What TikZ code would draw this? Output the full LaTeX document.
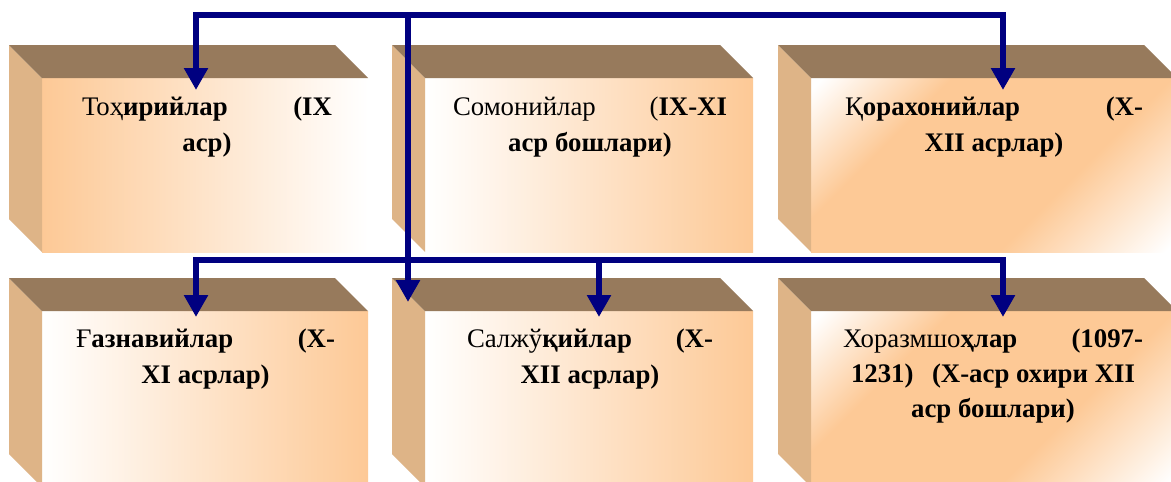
\documentclass[tikz,border=0pt]{standalone}
\usepackage{fontspec}
\setmainfont{Liberation Serif}
\usetikzlibrary{arrows.meta}
\definecolor{peach}{HTML}{FDC996}
\definecolor{topc}{HTML}{977A5C}
\definecolor{sidec}{HTML}{DEB487}
\definecolor{navyc}{HTML}{000080}
\pgfdeclarehorizontalshading{diagshade}{100bp}{color(0bp)=(white); color(16bp)=(white); color(33bp)=(peach); color(62bp)=(peach); color(84bp)=(white); color(100bp)=(white)}
\tikzset{
  face/.style={inner sep=0pt, outer sep=0pt, anchor=north west, draw=none},
  topface/.style={fill=topc},
  sideface/.style={fill=sidec},
  lbl/.style={inner sep=0pt, outer sep=0pt, anchor=base west, font=\fontsize{26.8}{36.5}\selectfont},
  navyconn/.style={draw=navyc, line width=5.5pt, miter limit=10},
  navytip/.tip={Triangle[width=23pt,length=22pt]},
}
\newcommand\cuboid[6]{%
  \node[face, minimum width=#4pt, minimum height=#5pt, #6] (#1) at (#2,#3) {};
  \fill[sideface] (#1.north west) -- ++(-33,-33) -- ++(0,#5) -- (#1.south west) -- cycle;
  \fill[topface] (#1.north west) -- ++(-33,-33) -- ++(#4,0) -- (#1.north east) -- cycle;
}
\begin{document}
\begin{tikzpicture}[x=1pt,y=-1pt]
\useasboundingbox (0,0) rectangle (1171,482);
\clip (0,0) rectangle (1171,482);
\fill[white] (0,0) rectangle (1171,482);
% boxes
\cuboid{b1}{42}{78}{326}{174}{left color=peach, right color=white}
\cuboid{b2}{425}{78}{328}{174}{left color=white, right color=peach}
\cuboid{b3}{811}{78}{366}{174}{shading=diagshade, shading angle=-45}
\cuboid{b4}{42}{311}{326}{176}{left color=white, right color=peach}
\cuboid{b5}{425}{311}{328}{176}{left color=white, right color=peach}
\cuboid{b6}{811}{311}{366}{176}{shading=diagshade, shading angle=-45}
% labels
\node[lbl] (l1) at (82,115) {\parbox[t]{250pt}{\centering\makebox[250pt]{Тоҳ\textbf{ирийлар}\hfill\textbf{(IX}}\\ \textbf{аср)}}};
\node[lbl] (l2) at (453,115) {\parbox[t]{274pt}{\centering\makebox[274pt]{Сомонийлар\hfill(\textbf{IX-XI}}\\ \textbf{аср бошлари)}}};
\node[lbl] (l3) at (845,115) {\parbox[t]{298pt}{\centering\makebox[298pt]{Қ\textbf{орахонийлар}\hfill\textbf{(X-}}\\ \textbf{XII асрлар)}}};
\node[lbl] (l4) at (76,347) {\parbox[t]{259pt}{\centering\makebox[259pt]{Ғ\textbf{азнавийлар}\hfill\textbf{(X-}}\\ \textbf{XI асрлар)}}};
\node[lbl] (l5) at (467,347) {\parbox[t]{246pt}{\centering\makebox[246pt]{Салжў\textbf{қийлар}\hfill\textbf{(X-}}\\ \textbf{XII асрлар)}}};
\node[lbl] (l6) at (843,347) {\parbox[t]{300pt}{\fontsize{26.8}{35}\selectfont\centering\makebox[300pt]{Хоразмшо\textbf{ҳлар}\hfill\textbf{(1097-}}\\ \makebox[284pt]{\textbf{1231)}\hfill\textbf{(X-аср охири XII}}\\ \textbf{аср бошлари)}}};
% connector points
\coordinate (t1) at (196,90);
\coordinate (t3) at (1003,90);
\coordinate (hub) at (408,15);
\coordinate (t5l) at (408,302);
\coordinate (bar) at (599,260);
\coordinate (t4) at (196,317);
\coordinate (t5) at (599,317);
\coordinate (t6) at (1003,317);
% connectors
\draw[navyconn, navytip-navytip] (t1) |- (hub) -| (t3);
\draw[navyconn, -navytip] (hub) -- (t5l);
\draw[navyconn, navytip-navytip] (t4) |- (bar) -| (t6);
\draw[navyconn, -navytip] (bar) -- (t5);
\end{tikzpicture}
\end{document}
